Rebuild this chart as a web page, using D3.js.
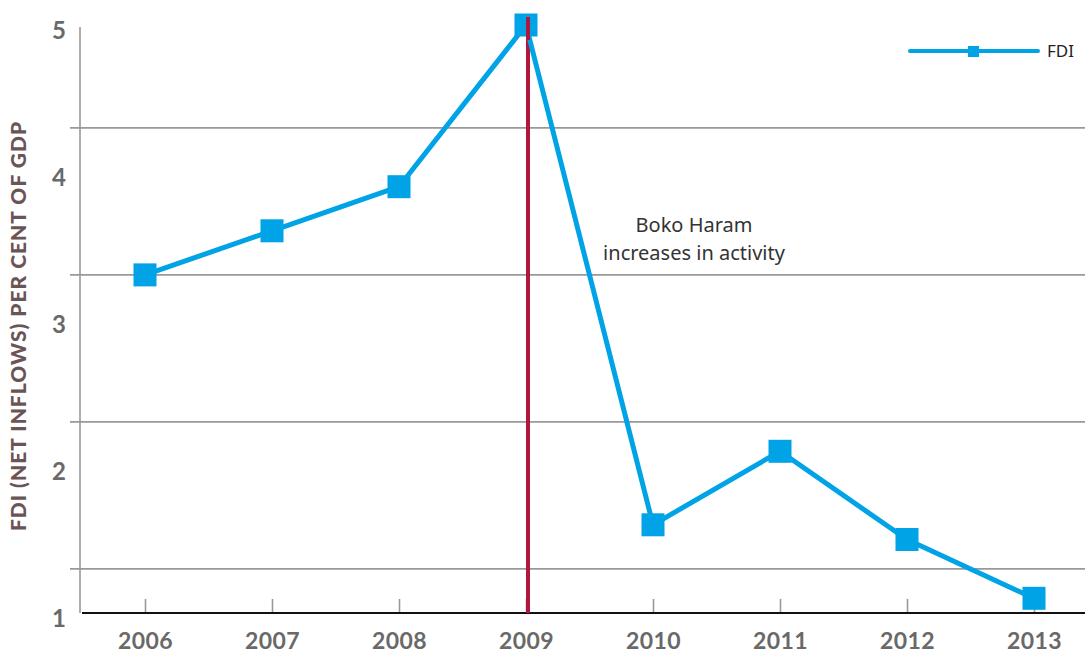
<!DOCTYPE html>
<html>
<head>
<meta charset="utf-8">
<script src="https://cdn.jsdelivr.net/npm/d3@7"></script>
<style>
  body { margin: 0; background: #fff; }
  svg { display: block; }
</style>
</head>
<body>
<div id="chart"></div>
<script>
// data
var years = ["2006", "2007", "2008", "2009", "2010", "2011", "2012", "2013"];
var fdiValues = [3.3, 3.6, 3.9, 5.0, 1.6, 2.1, 1.5, 1.1];
var yTickValues = [1, 2, 3, 4, 5];
var gridValues = [1.3, 2.3, 3.3, 4.3];   // the grid lines do not sit on the labels
var markerYear = "2009";
var noteLines = ["Boko Haram", "increases in activity"];
var legendLabel = "FDI";
var yTitle = "FDI (NET INFLOWS) PER CENT OF GDP";

var w = 1085, h = 653;
var blue = "#00a3e6";
var grey = "#999999";
var tickGrey = "#696969";

var svg = d3.select("#chart").append("svg")
    .attr("width", w)
    .attr("height", h);

var x = d3.scalePoint()
    .domain(years)
    .range([145, 1034]);

var y = d3.scaleLinear()
    .domain([1, 5])
    .range([613, 25]);

// grid lines
svg.selectAll("line.grid")
    .data(gridValues)
    .enter()
    .append("line")
    .attr("class", "grid")
    .attr("x1", 70)
    .attr("x2", w)
    .attr("y1", function(d) { return y(d); })
    .attr("y2", function(d) { return y(d); })
    .attr("stroke", grey)
    .attr("stroke-width", 1.6);

// y axis line
svg.append("line")
    .attr("x1", 80).attr("x2", 80)
    .attr("y1", 27).attr("y2", y(1))
    .attr("stroke", grey)
    .attr("stroke-width", 1.6);

// y labels
svg.selectAll("text.ytick")
    .data(yTickValues)
    .enter()
    .append("text")
    .attr("class", "ytick")
    .attr("x", 66)
    .attr("y", function(d) { return y(d) + 14; })
    .attr("text-anchor", "end")
    .attr("font-family", "Lato")
    .attr("font-weight", "bold")
    .attr("font-size", "24px")
    .attr("fill", tickGrey)
    .text(function(d) { return d; });

// x axis
var xAxis = d3.axisBottom(x).tickSize(0).tickPadding(0);
var gx = svg.append("g")
    .attr("transform", "translate(0," + y(1) + ")")
    .call(xAxis);
gx.select(".domain").remove();
gx.append("line")
    .attr("x1", 82).attr("x2", w)
    .attr("y1", 0).attr("y2", 0)
    .attr("stroke", "#111")
    .attr("stroke-width", 2);
gx.selectAll(".tick line")
    .attr("y1", -14).attr("y2", 0)
    .attr("stroke", grey)
    .attr("stroke-width", 1.6);
gx.selectAll(".tick text")
    .attr("y", 36)
    .attr("dy", null)
    .attr("font-family", "Lato")
    .attr("font-weight", "bold")
    .attr("font-size", "23px")
    .attr("letter-spacing", "0.4px")
    .attr("fill", tickGrey);

// red marker line
svg.append("line")
    .attr("x1", x(markerYear) + 2).attr("x2", x(markerYear) + 2)
    .attr("y1", 17).attr("y2", y(1))
    .attr("stroke", "#b0173a")
    .attr("stroke-width", 4);

// FDI line
var line = d3.line()
    .x(function(d, i) { return x(years[i]); })
    .y(function(d) { return y(d); });

svg.append("path")
    .datum(fdiValues)
    .attr("d", line)
    .attr("fill", "none")
    .attr("stroke", blue)
    .attr("stroke-width", 5)
    .attr("stroke-linejoin", "round");

var sq = 23;
svg.selectAll("rect.pt")
    .data(fdiValues)
    .enter()
    .append("rect")
    .attr("class", "pt")
    .attr("x", function(d, i) { return x(years[i]) - sq / 2; })
    .attr("y", function(d) { return y(d) - sq / 2; })
    .attr("width", sq)
    .attr("height", sq)
    .attr("fill", blue);

// keep the red line on top of the 2009 marker
svg.append("line")
    .attr("x1", x(markerYear) + 2).attr("x2", x(markerYear) + 2)
    .attr("y1", 17).attr("y2", 40)
    .attr("stroke", "#b0173a")
    .attr("stroke-width", 4);

// annotation
svg.selectAll("text.note")
    .data(noteLines)
    .enter()
    .append("text")
    .attr("class", "note")
    .attr("x", 694)
    .attr("y", function(d, i) { return 232 + i * 28; })
    .attr("text-anchor", "middle")
    .attr("font-family", "Noto Sans")
    .attr("font-size", "20px")
    .attr("fill", "#333")
    .text(function(d) { return d; });

// legend
var lg = svg.append("g");
lg.append("line")
    .attr("x1", 910).attr("x2", 1038)
    .attr("y1", 51).attr("y2", 51)
    .attr("stroke", blue)
    .attr("stroke-width", 4)
    .attr("stroke-linecap", "round");
lg.append("rect")
    .attr("x", 968).attr("y", 46)
    .attr("width", 11).attr("height", 11)
    .attr("fill", blue);
lg.append("text")
    .attr("x", 1047)
    .attr("y", 57)
    .attr("font-family", "Noto Sans")
    .attr("font-size", "17px")
    .attr("fill", "#222")
    .text(legendLabel);

// y title
svg.append("text")
    .attr("transform", "translate(26,326) rotate(-90)")
    .attr("text-anchor", "middle")
    .attr("font-family", "Lato")
    .attr("font-weight", "900")
    .attr("font-size", "21px")
    .attr("letter-spacing", "1px")
    .attr("fill", "#6b5455")
    .text(yTitle);
</script>
</body>
</html>
